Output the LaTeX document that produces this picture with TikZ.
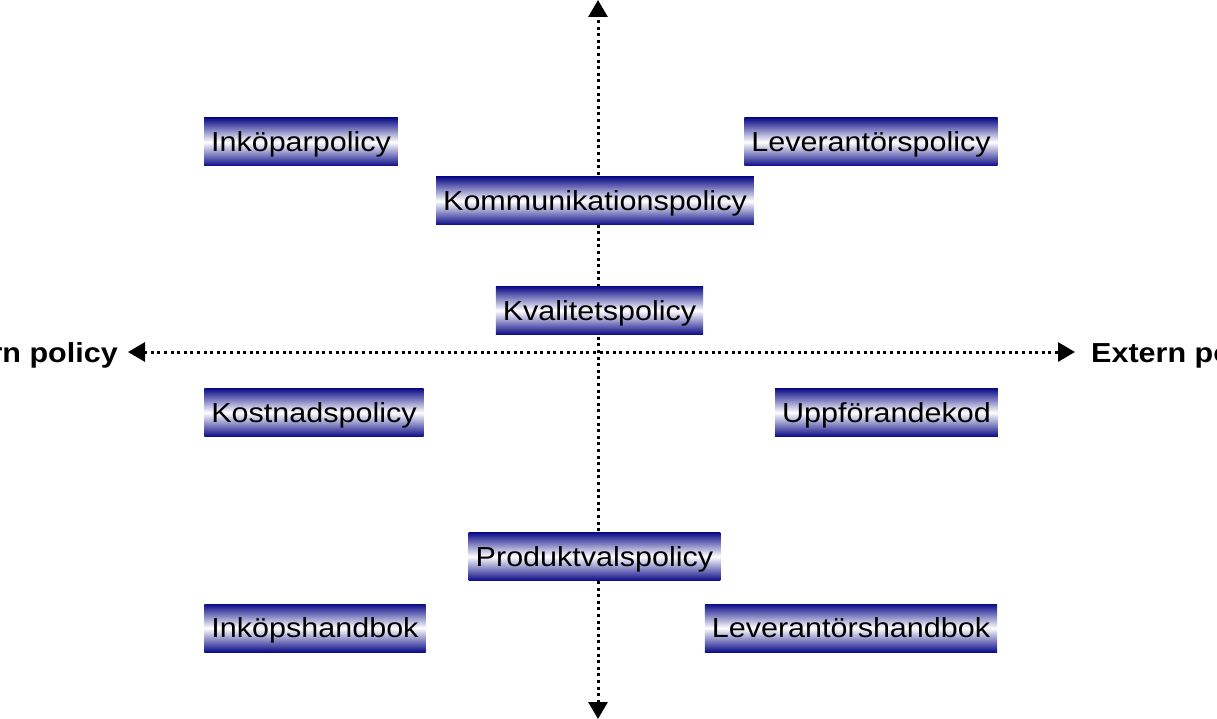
\documentclass[tikz,border=0pt]{standalone}
\usepackage{fontspec}
\usetikzlibrary{arrows.meta}
\newfontfamily\policyfont[FakeStretch=1.11]{Liberation Sans}
\definecolor{policyblue}{RGB}{12,12,136}

\begin{document}
\begin{tikzpicture}[x=1pt,y=-1pt,>={Triangle[length=17pt,width=19pt]},
        axis/.style={line width=3pt,dash pattern=on 3pt off 3.6pt,<->},
        policybox/.style={top color=policyblue,bottom color=policyblue,middle color=white,
                minimum height=48pt,inner xsep=7pt,inner ysep=0pt,
                text height=22.5pt,text depth=3.5pt,
                font=\policyfont\fontsize{27.5}{30}\selectfont},
        axislabel/.style={inner sep=0pt,font=\policyfont\bfseries\fontsize{27.5}{30}\selectfont}]
        % picture frame
        \clip (0,0) rectangle (1217,719);

        % ends of the axes
        \coordinate (north) at (598,0);
        \coordinate (south) at (598,719);
        \coordinate (west) at (128,352);
        \coordinate (east) at (1075,352);

        % draw the axes
        \draw[axis] (south) -- (north);
        \draw[axis] (west) -- (east);
        \node[axislabel,anchor=base east] (intern) at (118,362) {Intern policy};
        \node[axislabel,anchor=base west] (extern) at (1091,362) {Extern policy};

        % draw the policies
        \foreach \name/\x/\y/\policytext in {
                inkopar/301/142/Inköparpolicy,
                leverantor/871/142/Leverantörspolicy,
                kommunikation/595/201/Kommunikationspolicy,
                kvalitet/599.5/310.5/Kvalitetspolicy,
                kostnad/314/412.5/Kostnadspolicy,
                uppforande/886.5/412.5/Uppförandekod,
                produktval/594.5/556.5/Produktvalspolicy,
                inkopshandbok/315/628/Inköpshandbok,
                leverantorshandbok/851/628/Leverantörshandbok}
                \node[policybox] (\name) at (\x,\y) {\policytext};
\end{tikzpicture}
\end{document}
